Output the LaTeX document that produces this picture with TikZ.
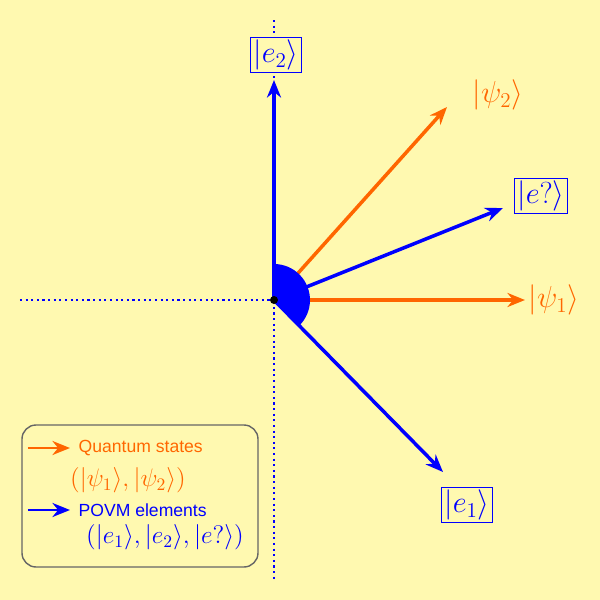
\documentclass[tikz,border=0pt]{standalone}
\usepackage{fontspec}
\setsansfont{Liberation Sans}
\usepackage{amsmath,amssymb}
\usetikzlibrary{arrows.meta,positioning}
\definecolor{qorange}{RGB}{255,102,0}
\definecolor{bgyellow}{RGB}{255,249,176}
\tikzset{
	statearrow/.style={qorange, line width=2pt, -{Stealth[length=10pt,width=8pt]}},
	povmarrow/.style={blue, line width=2pt, -{Stealth[length=10pt,width=8pt]}},
	boxlabel/.style={draw=blue, fill=bgyellow, text=blue, inner sep=1.5pt, font=\LARGE},
	statelabel/.style={text=qorange, font=\LARGE}
}

\begin{document}
\begin{tikzpicture}
		\fill[bgyellow] (-5.48,-6) rectangle (6.52,6);
		\useasboundingbox (-5.48,-6) rectangle (6.52,6);
		\coordinate (O) at (0,0);
		
		% axes
		\draw[blue, dotted, line width=1.2pt] (-5.08,0) -- (O);
		\draw[blue, dotted, line width=1.2pt] (0,5.6) -- (0,-5.6);
		
		% vectors
		\coordinate (e2) at (0,4.4);
		\coordinate (p2) at (3.46,3.86);
		\coordinate (eq) at (4.58,1.84);
		\coordinate (p1) at (5.02,0);
		\coordinate (e1) at (3.38,-3.44);
		\draw[povmarrow] (O) -- (e2);
		\draw[statearrow] (O) -- (p2);
		\draw[povmarrow] (O) -- (eq);
		\draw[statearrow] (O) -- (p1);
		\draw[povmarrow] (O) -- (e1);
		\fill[blue] (O) -- (-45.5:0.72) arc (-45.5:90:0.72) -- cycle;
		\fill[black] (O) circle (0.08);
		
		% labels
		\node[boxlabel] (le2) at (0.04,4.9) {$|e_2\rangle$};
		\node[statelabel] (lp2) at (4.48,4.1) {$|\psi_2\rangle$};
		\node[boxlabel] (leq) at (5.34,2.08) {$|e?\rangle$};
		\node[statelabel] (lp1) at (5.6,0) {$|\psi_1\rangle$};
		\node[boxlabel] (le1) at (3.86,-4.1) {$|e_1\rangle$};
		
		% legend
		\draw[gray!80!black, rounded corners=8pt, line width=0.8pt] (-5.04,-2.5) rectangle (-0.32,-5.34);
		\coordinate (qa) at (-4.92,-2.96);
		\coordinate (qb) at (-4.08,-2.96);
		\draw[statearrow, line width=1.4pt] (qa) -- (qb);
		\node[right=0.05 of qb, text=qorange, font=\sffamily] (qtext) {Quantum states};
		\node[text=qorange, font=\Large] (qmath) at (-2.92,-3.6) {$(|\psi_1\rangle,|\psi_2\rangle)$};
		\coordinate (pa) at (-4.92,-4.2);
		\coordinate (pb) at (-4.08,-4.2);
		\draw[povmarrow, line width=1.4pt] (pa) -- (pb);
		\node[right=0.05 of pb, text=blue, font=\sffamily] (ptext) {POVM elements};
		\node[text=blue, font=\Large] (pmath) at (-2.18,-4.74) {$(|e_1\rangle,|e_2\rangle,|e?\rangle)$};
		\end{tikzpicture}
\end{document}
